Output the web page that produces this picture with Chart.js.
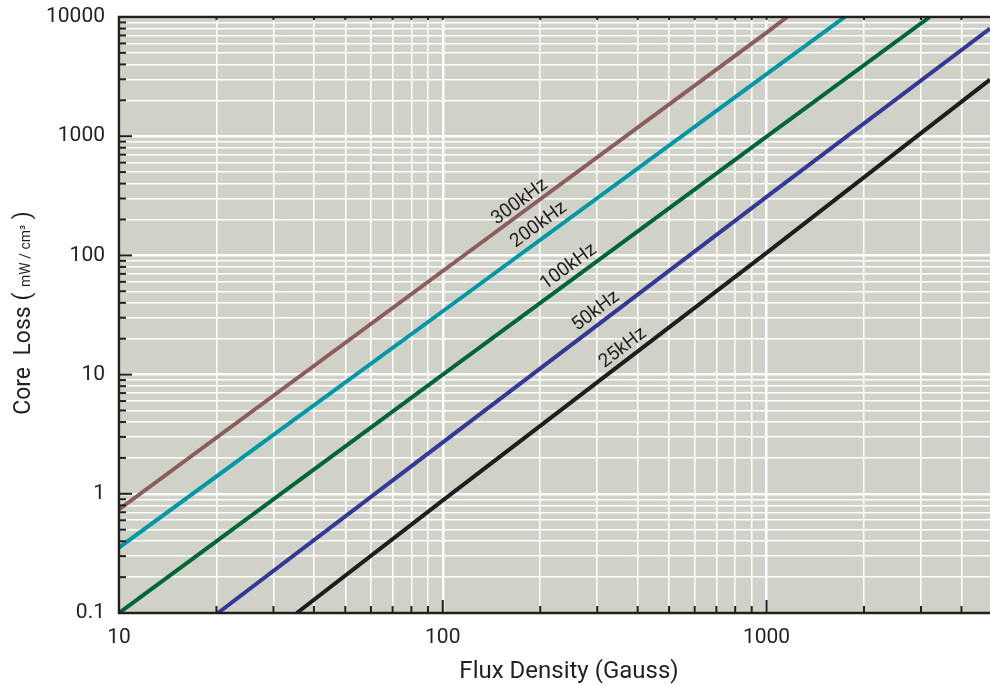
<!DOCTYPE html>
<html>
<head>
<meta charset="utf-8">
<script src="https://cdn.jsdelivr.net/npm/chart.js@4"></script>
<style>
    html, body { margin: 0; padding: 0; background: #fff; overflow: hidden; }
    #area { width: 990px; height: 685px; }
</style>
</head>
<body>
<div id="area"><canvas id="graficoPerda"></canvas></div>
<script>
// perda no núcleo (mW/cm³) x densidade de fluxo (Gauss), uma reta por frequência
const frequencias = ["300kHz", "200kHz", "100kHz", "50kHz", "25kHz"];
const cores = ["#8c5e5b", "#0098a5", "#00663a", "#353996", "#1f1d1d"];

const fluxo300 = [10, 100, 1000, 1158];
const perda300 = [0.74, 74, 7400, 10000];
const fluxo200 = [10, 100, 1000, 1745];
const perda200 = [0.354, 34, 3320, 10000];
const fluxo100 = [10, 100, 1000, 3192];
const perda100 = [0.1, 10, 990, 10000];
const fluxo50 = [20.2, 100, 1000, 4900];
const perda50 = [0.1, 2.7, 310, 8000];
const fluxo25 = [35.4, 100, 1000, 4900];
const perda25 = [0.1, 0.88, 105, 2980];

// onde o nome de cada curva é escrito (em Gauss e mW/cm³)
const nomeX = [173, 198, 245, 297, 360];
const nomeY = [281, 180, 80, 34, 16.7];

// marcas dos eixos
const xMarcas = [10, 20, 30, 40, 50, 60, 70, 80, 90,
    100, 200, 300, 400, 500, 600, 700, 800, 900,
    1000, 2000, 3000, 4000];
const xRotulos = [10, 100, 1000];
const yMarcas = [0.1, 0.2, 0.3, 0.4, 0.5, 0.6, 0.7, 0.8, 0.9,
    1, 2, 3, 4, 5, 6, 7, 8, 9,
    10, 20, 30, 40, 50, 60, 70, 80, 90,
    100, 200, 300, 400, 500, 600, 700, 800, 900,
    1000, 2000, 3000, 4000, 5000, 6000, 7000, 8000, 9000,
    10000];
const yRotulos = [0.1, 1, 10, 100, 1000, 10000];

const fluxos = [fluxo300, fluxo200, fluxo100, fluxo50, fluxo25];
const perdas = [perda300, perda200, perda100, perda50, perda25];

const corTexto = "#231f20";
const fonte = "Roboto";

function juntarPontos(xs, ys) {
    return xs.map((x, i) => ({ x: x, y: ys[i] }));
}

const moldura = {
    id: "moldura",
    beforeDraw(chart) {
        const { ctx, chartArea: a } = chart;
        ctx.save();
        ctx.fillStyle = "#d0d1c7";
        ctx.fillRect(a.left, a.top, a.right - a.left, a.bottom - a.top);
        ctx.restore();
    },
    afterDatasetsDraw(chart) {
        const { ctx, chartArea: a, scales } = chart;
        ctx.save();
        ctx.strokeStyle = corTexto;

        // tracinhos para dentro da área
        ctx.lineWidth = 2;
        scales.x.ticks.forEach(t => {
            const px = scales.x.getPixelForValue(t.value);
            const tam = t.major ? 13 : 7;
            ctx.beginPath();
            ctx.moveTo(px, a.bottom);
            ctx.lineTo(px, a.bottom - tam);
            ctx.moveTo(px, a.top);
            ctx.lineTo(px, a.top + 3);
            ctx.stroke();
        });
        scales.y.ticks.forEach(t => {
            const py = scales.y.getPixelForValue(t.value);
            const tam = t.major ? 13 : 7;
            ctx.beginPath();
            ctx.moveTo(a.left, py);
            ctx.lineTo(a.left + tam, py);
            ctx.stroke();
        });

        // bordas
        ctx.lineWidth = 2.5;
        ctx.beginPath();
        ctx.moveTo(a.right, a.top);
        ctx.lineTo(a.left, a.top);
        ctx.lineTo(a.left, a.bottom);
        ctx.lineTo(a.right, a.bottom);
        ctx.stroke();

        // nome de cada curva, inclinado como a reta
        ctx.fillStyle = corTexto;
        ctx.font = `19px ${fonte}`;
        ctx.textAlign = "center";
        ctx.textBaseline = "middle";
        chart.data.datasets.forEach((ds, i) => {
            const p0 = ds.data[0];
            const p1 = ds.data[ds.data.length - 1];
            const ang = Math.atan2(
                scales.y.getPixelForValue(p1.y) - scales.y.getPixelForValue(p0.y),
                scales.x.getPixelForValue(p1.x) - scales.x.getPixelForValue(p0.x)
            );
            ctx.save();
            ctx.translate(scales.x.getPixelForValue(nomeX[i]), scales.y.getPixelForValue(nomeY[i]));
            ctx.rotate(ang);
            ctx.fillText(frequencias[i], 0, 0);
            ctx.restore();
        });
        ctx.restore();
    },
    afterDraw(chart) {
        const { ctx } = chart;
        ctx.save();
        ctx.fillStyle = corTexto;

        // título do eixo x
        ctx.font = `24px ${fonte}`;
        ctx.textAlign = "center";
        ctx.textBaseline = "alphabetic";
        ctx.fillText("Flux Density (Gauss)", 569, 678);

        // título do eixo y, com a unidade em letra menor
        const partes = [
            { t: "Core  Loss ( ", f: `23px ${fonte}` },
            { t: "mW / cm³", f: `14px ${fonte}` },
            { t: " )", f: `23px ${fonte}` }
        ];
        let total = 0;
        partes.forEach(p => { ctx.font = p.f; p.w = ctx.measureText(p.t).width; total += p.w; });
        ctx.translate(30, 313);
        ctx.rotate(-Math.PI / 2);
        ctx.textAlign = "left";
        let pos = -total / 2;
        partes.forEach(p => {
            ctx.font = p.f;
            ctx.fillText(p.t, pos, 0);
            pos += p.w;
        });
        ctx.restore();
    }
};

new Chart(document.getElementById("graficoPerda"), {
    type: "line",
    data: {
        datasets: frequencias.map((f, i) => ({
            label: f,
            data: juntarPontos(fluxos[i], perdas[i]),
            borderColor: cores[i],
            backgroundColor: "transparent",
            borderWidth: 4,
            pointRadius: 0,
            tension: 0,
            fill: false
        }))
    },
    options: {
        responsive: true,
        maintainAspectRatio: false,
        animation: false,
        layout: { padding: { top: 17, right: 0, left: 0, bottom: 0 } },
        plugins: {
            legend: { display: false },
            tooltip: { enabled: false }
        },
        scales: {
            x: {
                type: "logarithmic",
                min: 10,
                max: 4900,
                afterBuildTicks: escala => {
                    escala.ticks = xMarcas.map(v => ({ value: v, major: xRotulos.includes(v) }));
                },
                afterFit: escala => {
                    escala.height = 72;
                    escala.paddingLeft = 0;
                    escala.paddingRight = 0;
                },
                border: { display: false },
                grid: {
                    color: "#ffffff",
                    lineWidth: ctx => (ctx.tick && ctx.tick.major ? 2.5 : 1.5),
                    drawTicks: false
                },
                ticks: {
                    autoSkip: false,
                    maxRotation: 0,
                    padding: 12,
                    color: corTexto,
                    font: { family: fonte, size: 21 },
                    callback: v => (xRotulos.includes(v) ? String(v) : "")
                }
            },
            y: {
                type: "logarithmic",
                min: 0.1,
                max: 10000,
                afterBuildTicks: escala => {
                    escala.ticks = yMarcas.map(v => ({ value: v, major: yRotulos.includes(v) }));
                },
                afterFit: escala => {
                    escala.width = 119;
                    escala.paddingTop = 0;
                    escala.paddingBottom = 0;
                },
                border: { display: false },
                grid: {
                    color: "#ffffff",
                    lineWidth: ctx => (ctx.tick && ctx.tick.major ? 2.5 : 1.5),
                    drawTicks: false
                },
                ticks: {
                    autoSkip: false,
                    padding: 14,
                    color: corTexto,
                    font: { family: fonte, size: 21 },
                    callback: v => (yRotulos.includes(v) ? String(v) : "")
                }
            }
        }
    },
    plugins: [moldura]
});
</script>
</body>
</html>
